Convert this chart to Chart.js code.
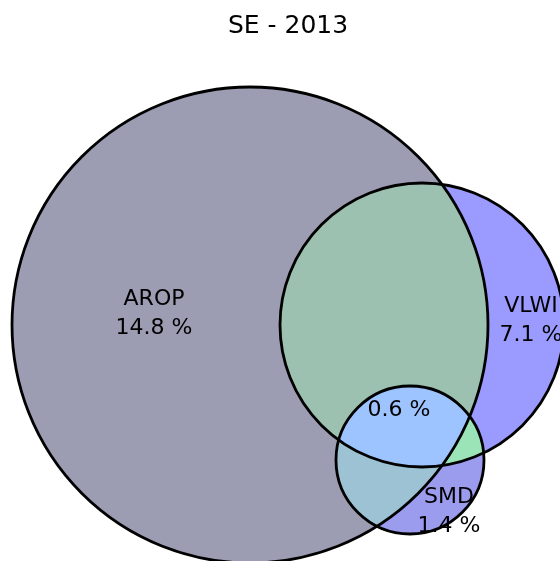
<!DOCTYPE html>
<html>
<head>
<meta charset="utf-8">
<script src="https://cdn.jsdelivr.net/npm/chart.js@4"></script>
<style>
  html, body { margin: 0; padding: 0; background: #fff; overflow: hidden; }
</style>
</head>
<body>
<canvas id="venn" width="560" height="561"></canvas>
<script>
// ── Data ─────────────────────────────────────────────
const titleText = 'SE - 2013';
const setNames  = ['AROP', 'VLWI', 'SMD'];
const setShares = [14.8, 7.1, 1.4];
const allThreeShare = 0.6;

// circle layout (data units)
const circleX = [0, 1.72, 1.60];
const circleY = [0, 0, -1.35];
const circleR = [2.38, 1.42, 0.74];

// regions: membership mask in AROP / VLWI / SMD order
const regionMasks  = ['100', '010', '110', '001', '101', '011', '111'];
const regionColors = ['#9c9cb3', '#9a9aff', '#9cc1b0', '#9c9cee', '#9cc2d4', '#9ae4b8', '#9dc4ff'];

// label anchors (data units): the three sets, then the triple overlap
const labelX = [-0.96, 2.81, 1.99, 1.49];
const labelY = [0.115, 0.045, -1.865, -0.855];

// ── Plugin: draws the circles and region fills via the scales ──
function circlePath(ctx, i, sx, sy) {
    const cx = sx.getPixelForValue(circleX[i]);
    const cy = sy.getPixelForValue(circleY[i]);
    const r  = sx.getPixelForValue(circleX[i] + circleR[i]) - cx;
    ctx.beginPath();
    ctx.arc(cx, cy, r, 0, Math.PI * 2);
}

const vennPlugin = {
    id: 'venn',
    beforeDatasetsDraw(chart) {
        const ctx = chart.ctx, sx = chart.scales.x, sy = chart.scales.y;
        const W = chart.width, H = chart.height;
        regionMasks.forEach(function(mask, k) {
            ctx.save();
            for (let i = 0; i < 3; i++) {
                if (mask[i] === '1') {
                    circlePath(ctx, i, sx, sy);
                    ctx.clip();
                } else {
                    circlePath(ctx, i, sx, sy);
                    ctx.rect(0, 0, W, H);
                    ctx.clip('evenodd');
                }
            }
            ctx.fillStyle = regionColors[k];
            ctx.fillRect(0, 0, W, H);
            ctx.restore();
        });
        ctx.save();
        ctx.strokeStyle = '#000';
        ctx.lineWidth = 2.8;
        for (let i = 0; i < 3; i++) {
            circlePath(ctx, i, sx, sy);
            ctx.stroke();
        }
        ctx.restore();
    },
    afterDatasetsDraw(chart) {
        const ctx = chart.ctx;
        const meta = chart.getDatasetMeta(0);
        ctx.save();
        ctx.fillStyle = '#000';
        ctx.font = '22px "DejaVu Sans"';
        ctx.textAlign = 'center';
        ctx.textBaseline = 'middle';
        meta.data.forEach(function(pt, i) {
            const lines = chart.data.datasets[0].labels[i];
            const lh = 29;
            const y0 = pt.y - (lines.length - 1) * lh / 2;
            lines.forEach(function(t, j) { ctx.fillText(t, pt.x, y0 + j * lh); });
        });
        ctx.restore();
    }
};

const labelLines = setNames.map(function(n, i) { return [n, setShares[i] + ' %']; });
labelLines.push([allThreeShare + ' %']);

new Chart(document.getElementById('venn'), {
    type: 'scatter',
    data: {
        datasets: [{
            data: labelX.map(function(x, i) { return { x: x, y: labelY[i] }; }),
            labels: labelLines,
            pointRadius: 0
        }]
    },
    options: {
        responsive: false,
        animation: false,
        devicePixelRatio: 1,
        layout: { padding: { left: 16, right: 0, top: 0, bottom: 0 } },
        plugins: {
            legend: { display: false },
            tooltip: { enabled: false },
            title: {
                display: true,
                text: titleText,
                color: '#000',
                font: { family: 'DejaVu Sans', size: 25, weight: 'normal', lineHeight: 1.2 },
                padding: { top: 11, bottom: 0 }
            }
        },
        scales: {
            x: { type: 'linear', display: false, min: -2.34, max: 3.1 },
            y: { type: 'linear', display: false, min: -2.36, max: 2.84 }
        }
    },
    plugins: [vennPlugin]
});
</script>
</body>
</html>
